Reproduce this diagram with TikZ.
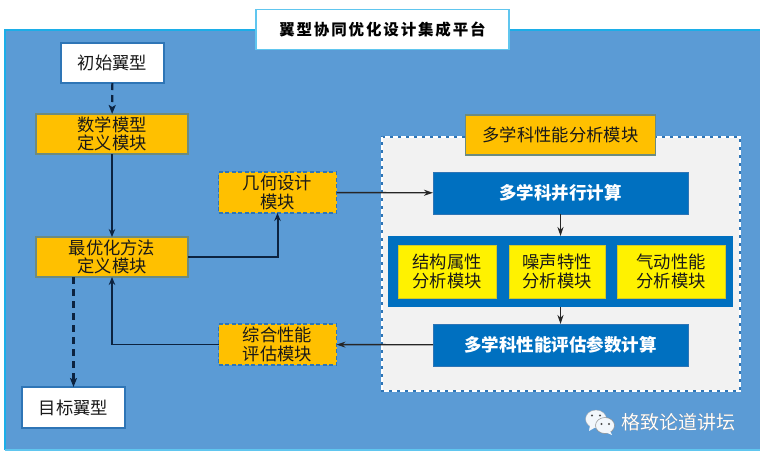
\documentclass[tikz,border=0pt]{standalone}
\usepackage{fontspec}
\setmainfont{Noto Sans CJK SC}
\newfontfamily\wmfont{Noto Sans CJK SC}
\usetikzlibrary{arrows.meta}
\definecolor{bgblue}{HTML}{5B9BD5}
\definecolor{edgecyan}{HTML}{1CAEE8}
\definecolor{orangebox}{HTML}{FFC000}
\definecolor{edgeblue}{HTML}{2E75B6}
\definecolor{deepblue}{HTML}{0070C0}
\definecolor{panelgray}{HTML}{F2F2F2}
\definecolor{navy}{HTML}{0C2340}
\tikzset{
  base/.style={inner sep=0pt,outer sep=0pt,align=center,font=\fontsize{17.3}{18.5}\selectfont,text=black!90},
  whitebox/.style={base,fill=white,draw=edgeblue,line width=1.2pt},
  solidorange/.style={base,fill=orangebox,draw=edgeblue!70!orangebox,line width=1.2pt},
  dashorange/.style={base,fill=orangebox,draw=edgeblue,line width=1.4pt,dash pattern=on 4pt off 2.5pt},
  bluebox/.style={base,fill=deepblue,draw=edgeblue,line width=.8pt,text=white,font=\fontsize{17.5}{20}\bfseries\selectfont},
  yellowbox/.style={base,fill=yellow,draw=yellow!80!black,line width=.6pt},
  link/.style={draw=navy,line width=1.5pt,-{Stealth[length=8pt,width=6.5pt]}},
  thinlink/.style={draw=black!85,line width=1.4pt,-{Stealth[length=9pt,width=6pt]}},
  dashlink/.style={draw=navy,line width=2.2pt,dash pattern=on 7pt off 5pt,-{Stealth[length=9pt,width=7pt,inset=2pt]}},
}
\begin{document}
\begin{tikzpicture}[x=1pt,y=-1pt]
\useasboundingbox (0,0) rectangle (760,456);
\fill[white] (0,0) rectangle (760,456);
\fill[bgblue] (5,30) rectangle (760,450);
\draw[edgecyan,line width=1.3pt] (5,450) -- (5,30) -- (760,30);
\draw[edgecyan!70!white,line width=1.3pt] (5,450) -- (760,450);
% panel
\node[base,minimum width=358pt,minimum height=254pt,fill=panelgray,draw=edgeblue,line width=1.3pt] (panel) at (561,264) {};
\draw[white,line width=1.3pt,dash pattern=on 5pt off 3pt] (panel.north west) rectangle (panel.south east);
% title
\node[base,minimum width=253pt,minimum height=40pt,fill=white,draw=edgecyan!70!white,line width=1.3pt,text=black,font=\fontsize{15.5}{20}\bfseries\selectfont] (title) at (382.5,29.5) {\addfontfeature{LetterSpace=12}翼型协同优化设计集成平台};
% left column
\node[whitebox,minimum width=103pt,minimum height=40pt] (start) at (112.5,63) {初始翼型};
\node[solidorange,minimum width=152pt,minimum height=40pt] (math) at (112,134) {数学模型\\定义模块};
\node[solidorange,minimum width=152pt,minimum height=40pt] (opt) at (112,257) {最优化方法\\定义模块};
\node[whitebox,minimum width=103pt,minimum height=41pt] (goal) at (73.5,407.5) {目标翼型};
% middle
\node[dashorange,minimum width=118pt,minimum height=41pt] (geo) at (277.5,192.5) {几何设计\\模块};
\node[dashorange,minimum width=118pt,minimum height=41pt] (eval) at (277.5,344.5) {综合性能\\评估模块};
% right
\node[solidorange,minimum width=190pt,minimum height=40pt] (mtitle) at (560.5,135) {多学科性能分析模块};
\node[bluebox,minimum width=255pt,minimum height=42pt] (par) at (560.5,193) {多学科并行计算};
\node[base,minimum width=345pt,minimum height=71pt,fill=deepblue] (band) at (560.5,271.5) {};
\node[yellowbox,minimum width=98pt,minimum height=53pt] (y1) at (447,271.5) {结构属性\\分析模块};
\node[yellowbox,minimum width=96pt,minimum height=53pt] (y2) at (557,271.5) {噪声特性\\分析模块};
\node[yellowbox,minimum width=108pt,minimum height=53pt] (y3) at (671,271.5) {气动性能\\分析模块};
\node[bluebox,minimum width=255pt,minimum height=42pt] (score) at (560.5,345) {多学科性能评估参数计算};
% connectors
\draw[dashlink] (start) -- (math);
\draw[link] (math) -- (opt);
\draw[link,line width=2pt] (opt.east) -| (geo.south);
\draw[thinlink] (geo) -- (par);
\draw[thinlink] (par) -- (band);
\draw[thinlink] (band) -- (score);
\draw[thinlink] (score) -- (eval);
\draw[link] (eval.west) -| (opt.south);
\draw[dashlink] (goal.north |- opt.south) -- (goal.north);
% watermark
\fill[white!92!bgblue,draw=black!35,line width=.3pt] (596,419) ellipse [x radius=10.5pt,y radius=9pt];
\fill[white!92!bgblue] (590,425) -- (589,431) -- (596,427) -- cycle;
\fill[white!92!bgblue,draw=black!45,line width=.5pt] (605,425.5) ellipse [x radius=9.5pt,y radius=8pt];
\fill[white!92!bgblue] (610,431) -- (612,435) -- (605,432) -- cycle;
\fill[black!70] (592,415.5) circle (1.2pt) (600,415.5) circle (1.2pt) (601.5,424) circle (1.1pt) (609,424) circle (1.1pt);
\node[base,text=black!55,font=\fontsize{19}{22}\wmfont\selectfont] (wmshadow) at (678.7,422.7) {格致论道讲坛};
\node[base,text=white,font=\fontsize{19}{22}\wmfont\selectfont] (wm) at (678,422) {格致论道讲坛};
\end{tikzpicture}
\end{document}
